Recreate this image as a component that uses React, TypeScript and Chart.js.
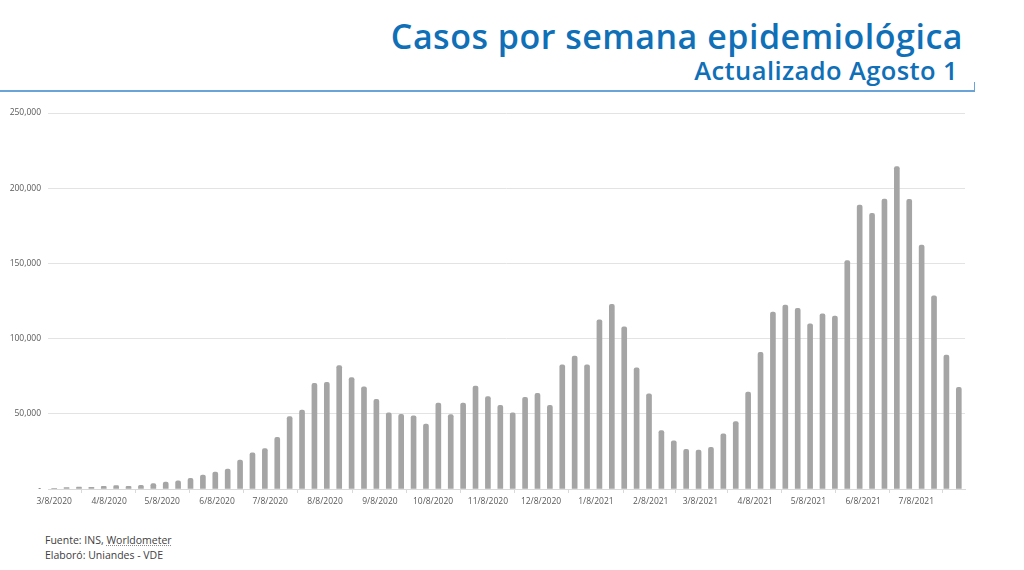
import React, { useEffect, useRef } from "react";
import { Chart, registerables } from "chart.js";

Chart.register(...registerables);

const weeks: string[] = [
  "2020-03-08", "2020-03-15", "2020-03-22", "2020-03-29",
  "2020-04-05", "2020-04-12", "2020-04-19", "2020-04-26",
  "2020-05-03", "2020-05-10", "2020-05-17", "2020-05-24", "2020-05-31",
  "2020-06-07", "2020-06-14", "2020-06-21", "2020-06-28",
  "2020-07-05", "2020-07-12", "2020-07-19", "2020-07-26",
  "2020-08-02", "2020-08-09", "2020-08-16", "2020-08-23", "2020-08-30",
  "2020-09-06", "2020-09-13", "2020-09-20", "2020-09-27",
  "2020-10-04", "2020-10-11", "2020-10-18", "2020-10-25",
  "2020-11-01", "2020-11-08", "2020-11-15", "2020-11-22", "2020-11-29",
  "2020-12-06", "2020-12-13", "2020-12-20", "2020-12-27",
  "2021-01-03", "2021-01-10", "2021-01-17", "2021-01-24", "2021-01-31",
  "2021-02-07", "2021-02-14", "2021-02-21", "2021-02-28",
  "2021-03-07", "2021-03-14", "2021-03-21", "2021-03-28",
  "2021-04-04", "2021-04-11", "2021-04-18", "2021-04-25",
  "2021-05-02", "2021-05-09", "2021-05-16", "2021-05-23", "2021-05-30",
  "2021-06-06", "2021-06-13", "2021-06-20", "2021-06-27",
  "2021-07-04", "2021-07-11", "2021-07-18", "2021-07-25",
  "2021-08-01",
];

const cases: number[] = [
  300, 900, 1200, 1100, 1700, 2300, 1800, 2400, 3600, 4600,
  5500, 7100, 9300, 11300, 13300, 19300, 24100, 26800, 34400, 48100,
  52500, 70300, 70900, 82000, 74000, 68000, 59600, 50700, 49600, 48700,
  43200, 57200, 49400, 57200, 68500, 61400, 55600, 50700, 61000, 63600,
  55600, 82500, 88400, 82500, 112400, 122800, 107900, 80500, 63200, 38800,
  32100, 26400, 25900, 27700, 36600, 44800, 64500, 90900, 117700, 122300,
  120100, 109900, 116400, 115000, 151800, 188800, 183300, 192800, 214300, 192600,
  162200, 128500, 89100, 67600,
];

const xTickLabels: string[] = [
  "3/8/2020", "4/8/2020", "5/8/2020", "6/8/2020", "7/8/2020", "8/8/2020",
  "9/8/2020", "10/8/2020", "11/8/2020", "12/8/2020", "1/8/2021", "2/8/2021",
  "3/8/2021", "4/8/2021", "5/8/2021", "6/8/2021", "7/8/2021",
];

const yTicks: number[] = [0, 50000, 100000, 150000, 200000, 250000];

const DAY = 86400000;
const origin = Date.UTC(2020, 2, 8);
const isoToDay = (s: string) => {
  const [y, m, d] = s.split("-").map(Number);
  return Math.round((Date.UTC(y, m - 1, d) - origin) / DAY);
};
const mdyToDay = (s: string) => {
  const [m, d, y] = s.split("/").map(Number);
  return Math.round((Date.UTC(y, m - 1, d) - origin) / DAY);
};

const FONT = "'Open Sans', sans-serif";

export default function App() {
  const ref = useRef<HTMLCanvasElement | null>(null);

  useEffect(() => {
    if (!ref.current) return;
    const points = weeks.map((w, i) => ({ x: isoToDay(w), y: cases[i] }));
    const tickDays = xTickLabels.map(mdyToDay);
    const firstDay = points[0].x;
    const lastDay = points[points.length - 1].x;

    const chart = new Chart(ref.current, {
      type: "bar",
      data: {
        datasets: [
          {
            data: points,
            backgroundColor: "#a5a5a5",
            barThickness: 5,
            borderRadius: 2,
            borderSkipped: "start",
          },
        ],
      },
      options: {
        animation: false,
        responsive: false,
        maintainAspectRatio: false,
        layout: { padding: { top: 13, right: 35, left: 0, bottom: 0 } },
        plugins: {
          legend: { display: false },
          tooltip: { enabled: false },
          title: { display: false },
        },
        scales: {
          x: {
            type: "linear",
            offset: false,
            min: firstDay - 3.5,
            max: lastDay + 3.5,
            afterBuildTicks: (scale: any) => {
              scale.ticks = tickDays.map((v) => ({ value: v }));
            },
            afterFit: (scale: any) => {
              scale.height = 31;
            },
            grid: {
              display: true,
              drawOnChartArea: false,
              drawTicks: true,
              tickLength: 4,
              color: "#d9d9d9",
            },
            border: { display: true, color: "#d9d9d9", width: 1 },
            ticks: {
              autoSkip: false,
              maxRotation: 0,
              padding: 3,
              color: "#595959",
              font: { family: FONT, size: 8.5 },
              callback: (v: any) => {
                const i = tickDays.indexOf(Number(v));
                return i >= 0 ? xTickLabels[i] : "";
              },
            },
          },
          y: {
            min: 0,
            max: 250000,
            afterBuildTicks: (scale: any) => {
              scale.ticks = yTicks.map((v) => ({ value: v }));
            },
            afterFit: (scale: any) => {
              scale.width = 48;
            },
            grid: {
              color: "#e3e3e3",
              drawTicks: false,
              lineWidth: 1,
            },
            border: { display: false },
            ticks: {
              padding: 7,
              color: "#595959",
              font: { family: FONT, size: 8.5 },
              callback: (v: any) =>
                Number(v) === 0 ? "-" : Number(v).toLocaleString("en-US"),
            },
          },
        },
      },
    });
    return () => chart.destroy();
  }, []);

  return (
    <div
      style={{
        position: "fixed",
        left: 0,
        top: 0,
        width: 1024,
        height: 570,
        background: "#ffffff",
        overflow: "hidden",
        fontFamily: FONT,
      }}
    >
      <div
        style={{
          position: "absolute",
          right: 61,
          top: 13,
          fontSize: 34,
          fontWeight: 600,
          letterSpacing: "0.5px",
          lineHeight: "normal",
          color: "#0f6fb7",
          whiteSpace: "nowrap",
        }}
      >
        Casos por semana epidemiológica
      </div>
      <div
        style={{
          position: "absolute",
          right: 66,
          top: 53,
          fontSize: 25.5,
          fontWeight: 600,
          letterSpacing: "0.4px",
          lineHeight: "normal",
          color: "#0f6fb7",
          whiteSpace: "nowrap",
        }}
      >
        Actualizado Agosto 1
      </div>
      <div
        style={{
          position: "absolute",
          left: 0,
          top: 90,
          width: 975,
          height: 1.5,
          background: "#6aa3d8",
        }}
      />
      <div
        style={{
          position: "absolute",
          left: 974,
          top: 82,
          width: 1,
          height: 9,
          background: "#6aa3d8",
        }}
      />
      <canvas
        ref={ref}
        width={1000}
        height={420}
        style={{ position: "absolute", left: 0, top: 100, width: 1000, height: 420 }}
      />
      <div
        style={{
          position: "absolute",
          left: 45,
          top: 533,
          fontSize: 10.5,
          lineHeight: "15px",
          color: "#404040",
          whiteSpace: "nowrap",
        }}
      >
        <div>
          Fuente: INS,{" "}
          <span
            style={{
              textDecorationLine: "underline",
              textDecorationStyle: "dotted",
              textDecorationColor: "#8a8a8a",
            }}
          >
            Worldometer
          </span>
        </div>
        <div>Elaboró: Uniandes - VDE</div>
      </div>
    </div>
  );
}
